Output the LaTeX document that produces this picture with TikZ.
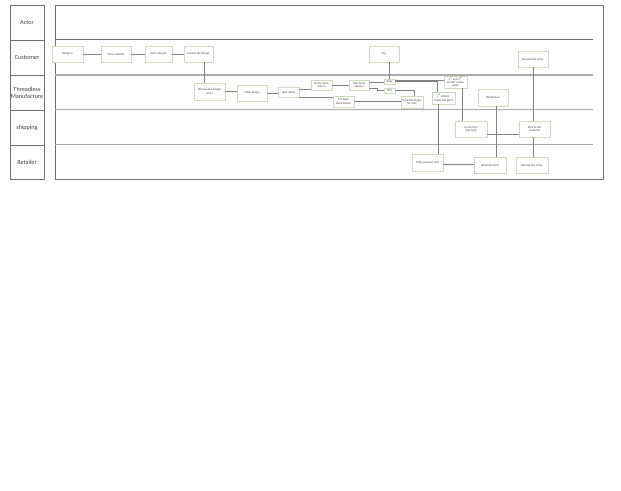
\documentclass[tikz,border=0pt]{standalone}
\usepackage{fontspec}
\setmainfont{Carlito}
\definecolor{boxgreen}{HTML}{C9DDB6}
\definecolor{txt}{HTML}{404040}
\definecolor{conn}{HTML}{808080}
\definecolor{frame}{HTML}{707070}
\definecolor{lane}{HTML}{ABABAB}
\begin{document}
\begin{tikzpicture}[x=1pt,y=-1pt,
  boxnode/.style={draw=boxgreen,line width=0.6pt,fill=white,inner sep=0.5pt,align=center,
    text=txt,font=\fontsize{3}{3.4}\selectfont},
  lanelabel/.style={text=txt,font=\fontsize{6.2}{7.2}\selectfont,align=center},
  connector/.style={draw=conn,line width=0.5pt},
  lanesep/.style={draw=lane,line width=1.3pt},
  framebox/.style={draw=frame,line width=0.7pt}]
\useasboundingbox[fill=white] (0,0) rectangle (621,490);
% left label column
\draw[framebox] (10,5) rectangle (44,179);
\foreach \yy in {40,75,110,145} \draw[framebox] (10,\yy) -- (44,\yy);
\node[lanelabel] (lActor) at (27,22.5) {Actor};
\node[lanelabel] (lCust) at (27,57.5) {Customer};
\node[lanelabel] (lThr) at (27,92.5) {Threadless\\Manufacture};
\node[lanelabel] (lShip) at (27,127.5) {shipping};
\node[lanelabel] (lRet) at (27,162.5) {Retailer};
% main frame
\draw[framebox] (55,5) rectangle (603,179);
\draw[draw=frame,line width=0.6pt] (55,39.5) -- (593,39.5);
\foreach \yy in {75,109.5,144.5} \draw[lanesep] (55,\yy) -- (593,\yy);
% customer lane
\node[boxnode,minimum width=31,minimum height=16] (designer) at (67.5,54) {Designer};
\node[boxnode,minimum width=30,minimum height=16] (web) at (116,54) {Go to website};
\node[boxnode,minimum width=27,minimum height=16] (post) at (158.5,54) {Post a design};
\node[boxnode,minimum width=29,minimum height=16] (review) at (198.5,54) {Review the design};
\node[boxnode,minimum width=30,minimum height=16] (pay) at (384,54) {Pay};
\node[boxnode,minimum width=30,minimum height=16] (recvc) at (533,59) {Receive the order};
% threadless lane
\node[boxnode,minimum width=31,minimum height=17] (recv) at (209.5,91.5) {Receive the design\\order};
\node[boxnode,minimum width=30,minimum height=16] (make) at (252,93) {Make design};
\node[boxnode,minimum width=21,minimum height=10] (high) at (288.5,92.5) {High rating};
\node[boxnode,minimum width=21,minimum height=10] (never) at (321.5,85) {Never done\\before};
\node[boxnode,minimum width=20,minimum height=10] (take) at (359,85) {Take team\\opinion};
\node[boxnode,minimum width=21,minimum height=11] (done) at (343.5,101.5) {It is been\\done before};
\node[boxnode,minimum width=11,minimum height=5] (okay) at (389.5,81.5) {Okay};
\node[boxnode,minimum width=11,minimum height=5] (notn) at (389.5,90.5) {Not};
\node[boxnode,minimum width=22,minimum height=12] (send) at (412,102) {Send the design\\for vote};
\node[boxnode,minimum width=23,minimum height=12] (pone) at (443.5,98) {1\textsuperscript{st} printer\\create the print};
\node[boxnode,minimum width=23,minimum height=12] (ptwo) at (455.5,82) {1\textsuperscript{st} and 2\textsuperscript{nd}\\printer create\\print};
\node[boxnode,minimum width=30,minimum height=17] (ware) at (493,97.5) {Warehouse};
% shipping lane
\node[boxnode,minimum width=32,minimum height=16] (shipm) at (471,129) {receive the\\shipment};
\node[boxnode,minimum width=31,minimum height=16] (shipc) at (534.5,129) {Ship to the\\customer};
% retailer lane
\node[boxnode,minimum width=31,minimum height=17] (order) at (427.5,162.5) {Order popular shirt};
\node[boxnode,minimum width=32,minimum height=16] (retail) at (490,165) {Retail the shirt};
\node[boxnode,minimum width=32,minimum height=16] (recvr) at (532,165) {Receive the order};
% connectors
\draw[connector] (designer.east) -- (web.west);
\draw[connector] (web.east) -- (post.west);
\draw[connector] (post.east) -- (review.west);
\draw[connector] ([xshift=5.5pt]review.south) -- ([xshift=5.5pt]review.south |- recv.north);
\draw[connector] (recv.east) -- (recv.east -| make.west);
\draw[connector] (make.east) -- (make.east -| high.west);
\draw[connector] ([yshift=3.5pt]high.east) -- ([yshift=3.5pt]high.east -| never.west);
\draw[connector] ([yshift=-4.5pt]high.east) -- ([yshift=-4.5pt]high.east -| done.west);
\draw[connector] (never.east) -- (never.east -| take.west);
\draw[connector] ([yshift=3pt]take.east) -- ([yshift=3pt]take.east -| okay.west);
\draw[connector] ([yshift=-3pt]take.east) -- ++(8,0) |- (notn.west);
\draw[connector] (okay.north) -- (okay.north |- pay.south);
\draw[connector] ([yshift=1.5pt]okay.east) -- ([yshift=1.5pt]okay.east -| ptwo.west);
\draw[connector] (okay.east) -| ([xshift=-6pt]pone.north);
\draw[connector] (notn.east) -| ([xshift=2.5pt]send.north);
\draw[connector] (done.east) -- (done.east -| send.west);
\draw[connector] ([xshift=6.5pt]ptwo.south) -- ([xshift=6.5pt]ptwo.south |- shipm.north);
\draw[connector] ([xshift=-5.5pt]pone.south) -- ([xshift=-5.5pt]pone.south |- order.north);
\draw[connector] ([yshift=-1.5pt]order.east) -- ([yshift=-1.5pt]order.east -| retail.west);
\draw[connector] ([xshift=3pt]ware.south) -- ([xshift=3pt]ware.south |- retail.north);
\draw[connector] ([yshift=-5pt]shipm.east) -- ([yshift=-5pt]shipm.east -| shipc.west);
\draw[connector] ([xshift=-1pt]shipc.north) -- ([xshift=-1pt]shipc.north |- recvc.south);
\draw[connector] ([xshift=-1pt]shipc.south) -- ([xshift=-1pt]shipc.south |- recvr.north);
\end{tikzpicture}
\end{document}
